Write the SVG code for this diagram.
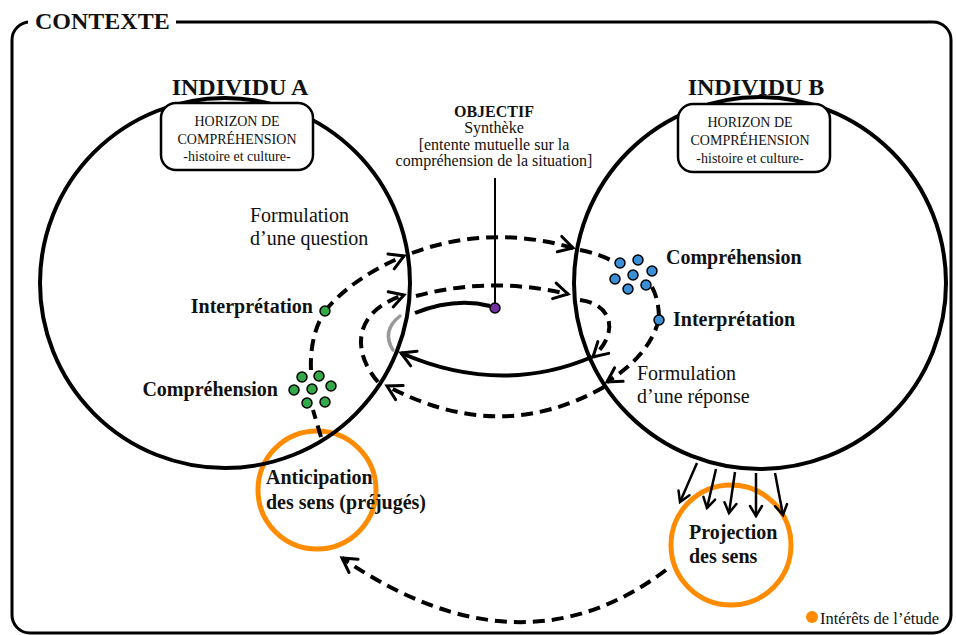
<svg xmlns="http://www.w3.org/2000/svg" width="956" height="635" viewBox="0 0 956 635">
<style>
text{font-family:"Liberation Serif","Times New Roman",serif;fill:#111}
.b{font-weight:bold}
.big{font-size:24px;font-weight:bold}
.lbl{font-size:20px}
.hz{font-size:14px;text-anchor:middle}
.ob{font-size:16px;text-anchor:middle}
.ring{fill:none;stroke:#000;stroke-width:4}
.orange{fill:none;stroke:#FF8C00;stroke-width:5}
.dash{fill:none;stroke:#000;stroke-width:4;stroke-dasharray:12 7}
.solid{fill:none;stroke:#000;stroke-width:4}
.thin{fill:none;stroke:#000;stroke-width:2.5}
.g{fill:#33A849;stroke:#000;stroke-width:1.5}
.bl{fill:#3A8FD6;stroke:#000;stroke-width:1.5}
</style>
<defs>
<marker id="ah" viewBox="-18 -11 22 22" markerWidth="22" markerHeight="22" refX="0" refY="0" orient="auto" markerUnits="userSpaceOnUse">
<path d="M-14,-8 L0,0 L-14,8" fill="none" stroke="#000" stroke-width="3" stroke-linecap="round" stroke-linejoin="miter"/>
</marker>
<marker id="ahs" viewBox="-14 -9 18 18" markerWidth="18" markerHeight="18" refX="0" refY="0" orient="auto" markerUnits="userSpaceOnUse">
<path d="M-10,-6 L0,0 L-10,6" fill="none" stroke="#000" stroke-width="2.5" stroke-linecap="round"/>
</marker>
</defs>
<rect width="956" height="635" fill="#fff"/>
<g id="contexte">
<rect x="12" y="22" width="939" height="611" rx="18" fill="none" stroke="#000" stroke-width="3"/>
<rect x="28" y="4" width="148" height="34" fill="#fff"/>
<text class="big" x="35" y="29">CONTEXTE</text>
</g>
<g id="interets">
<circle class="orange" cx="317" cy="490" r="59"/>
<circle class="orange" cx="731" cy="545" r="60"/>
</g>
<g id="individu-a">
<circle class="ring" cx="225" cy="283" r="185"/>
<text class="big" x="240" y="95" text-anchor="middle">INDIVIDU A</text>
<rect x="161" y="103" width="152" height="67" rx="15" fill="#fff" stroke="#000" stroke-width="2.5"/>
<text class="hz" x="237" y="126">HORIZON DE</text>
<text class="hz" x="237" y="144">COMPRÉHENSION</text>
<text class="hz" x="237" y="161">-histoire et culture-</text>
</g>
<g id="individu-b">
<circle class="ring" cx="760" cy="283" r="186"/>
<text class="big" x="756" y="95" text-anchor="middle">INDIVIDU B</text>
<rect x="678" y="104" width="152" height="68" rx="15" fill="#fff" stroke="#000" stroke-width="2.5"/>
<text class="hz" x="750" y="127">HORIZON DE</text>
<text class="hz" x="750" y="145">COMPRÉHENSION</text>
<text class="hz" x="750" y="163">-histoire et culture-</text>
</g>
<g id="connectors">
<path class="dash" d="M321,437 L313,410"/>
<path class="dash" d="M311,370 C310,350 314,328 325,311"/>
<path class="dash" d="M325,311 Q352,278 404,256" marker-end="url(#ah)"/>
<path class="dash" d="M412,253 Q490,224 573,248" marker-end="url(#ah)"/>
<path class="dash" d="M580,250 Q600,254 614,262"/>
<path class="dash" d="M652,287 Q659,300 659,319"/>
<path class="dash" d="M659,319 Q650,355 607,382" marker-end="url(#ah)"/>
<path class="dash" d="M604,387 Q500,446 387,386" marker-end="url(#ah)"/>
<path class="dash" d="M378,382 C352,352 352,312 404,295" marker-end="url(#ah)"/>
<path class="dash" d="M416,296 Q490,276 568,294" marker-end="url(#ah)"/>
<path class="dash" d="M580,300 C612,304 620,332 593,357" marker-end="url(#ah)"/>
<path class="solid" d="M592,357 Q500,396 401,353" marker-end="url(#ah)"/>
<path class="solid" d="M415,313 Q455,297 490,306"/>
<path d="M400,316 Q381,331 393,350" fill="none" stroke="#999" stroke-width="3.5" stroke-linecap="round"/>
<line x1="495" y1="178" x2="495" y2="305" stroke="#000" stroke-width="2"/>
<path class="thin" d="M697,463 L680,502" marker-end="url(#ahs)"/>
<path class="thin" d="M716,469 L707,508" marker-end="url(#ahs)"/>
<path class="thin" d="M735,472 L729,513" marker-end="url(#ahs)"/>
<path class="thin" d="M756,473 L756,516" marker-end="url(#ahs)"/>
<path class="thin" d="M775,473 L783,515" marker-end="url(#ahs)"/>
<path class="dash" d="M666,570 Q520,680 342,558" marker-end="url(#ah)"/>
</g>
<g id="objectif">
<circle cx="495" cy="308" r="5" fill="#7030A0" stroke="#000" stroke-width="1.5"/>
<text class="ob b" x="494" y="117">OBJECTIF</text>
<text class="ob" x="494" y="133">Synthèke</text>
<text class="ob" x="494" y="150">[entente mutuelle sur la</text>
<text class="ob" x="494" y="166">compréhension de la situation]</text>
</g>
<g id="a-points">
<circle class="g" cx="325" cy="311" r="5"/>
<circle class="g" cx="302" cy="377" r="5"/>
<circle class="g" cx="319" cy="376" r="5"/>
<circle class="g" cx="294" cy="390" r="5"/>
<circle class="g" cx="312" cy="389" r="5"/>
<circle class="g" cx="331" cy="386" r="5"/>
<circle class="g" cx="307" cy="403" r="5"/>
<circle class="g" cx="325" cy="402" r="5"/>
<text class="lbl b" x="313" y="313" text-anchor="end">Interprétation</text>
<text class="lbl b" x="278" y="396" text-anchor="end">Compréhension</text>
<text class="lbl" x="250" y="222">Formulation</text>
<text class="lbl" x="250" y="245">d’une question</text>
</g>
<g id="b-points">
<circle class="bl" cx="620" cy="263" r="5"/>
<circle class="bl" cx="638" cy="260" r="5"/>
<circle class="bl" cx="615" cy="279" r="5"/>
<circle class="bl" cx="633" cy="275" r="5"/>
<circle class="bl" cx="652" cy="271" r="5"/>
<circle class="bl" cx="628" cy="289" r="5"/>
<circle class="bl" cx="646" cy="285" r="5"/>
<circle class="bl" cx="659" cy="320" r="5"/>
<text class="lbl b" x="666" y="264">Compréhension</text>
<text class="lbl b" x="673" y="326">Interprétation</text>
<text class="lbl" x="637" y="380">Formulation</text>
<text class="lbl" x="637" y="403">d’une réponse</text>
</g>
<g id="anticipation">
<text class="lbl b" x="266" y="484">Anticipation</text>
<text class="lbl b" x="266" y="509">des sens (préjugés)</text>
</g>
<g id="projection">
<text class="lbl b" x="689" y="539">Projection</text>
<text class="lbl b" x="689" y="563">des sens</text>
</g>
<g id="legend">
<circle cx="812" cy="617" r="6" fill="#FF8C00"/>
<text x="820" y="624" style="font-size:16.5px">Intérêts de l’étude</text>
</g>
</svg>
